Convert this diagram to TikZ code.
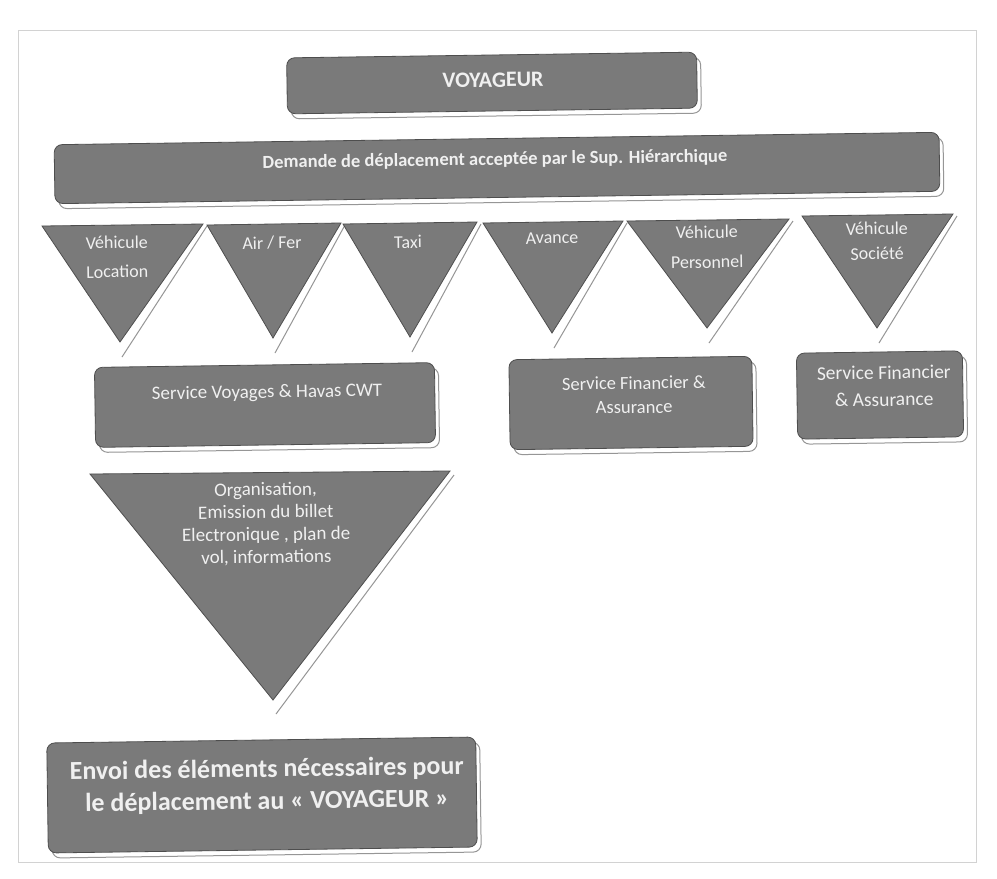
\documentclass[tikz,border=0pt]{standalone}
\usepackage{fontspec}
\setmainfont{Carlito}
\usetikzlibrary{shadows}
\definecolor{boxfill}{RGB}{122,122,122}
\definecolor{boxedge}{RGB}{78,78,78}
\definecolor{txt}{RGB}{240,240,240}
\definecolor{shad}{RGB}{150,150,150}
\begin{document}
\begin{tikzpicture}[x=1pt,y=-1pt,
  box/.style={rounded corners=8pt, fill=boxfill, draw=boxedge, line width=0.8pt, rotate=0.8,
    drop shadow={shadow xshift=4pt, shadow yshift=-5pt, fill=white, draw=shad, opacity=1, line width=1pt}},
  tri/.style={fill=boxfill, draw=boxedge, line width=0.8pt},
  trishad/.style={draw=shad, line width=1pt},
  lbl/.style={text=txt, align=center, inner sep=0pt, rotate=0.8},
  frame/.style={draw=gray!35, line width=0.6pt}]
\useasboundingbox (0,0) rectangle (997,879);
\fill[white] (0,0) rectangle (997,879);
\draw[frame] (18,30) rectangle (976,862);

% top boxes
\node[box, minimum width=410pt, minimum height=56pt] (voy) at (492,83) {};
\node[lbl, font=\fontsize{22}{26}\selectfont\bfseries] (voyt) at (493,80) {VOYAGEUR};
\node[box, minimum width=885pt, minimum height=59pt] (dem) at (497,168) {};
\node[lbl, font=\fontsize{18.5}{22}\selectfont\bfseries] (demt) at (495,160) {Demande de déplacement acceptée par le Sup. Hiérarchique};

% row triangles
\foreach \n/\l/\r/\t/\ax/\ay in {1/42/203/225/120/342, 2/207/341/224/273/338, 3/343/477/223/410/337,
    4/483/623/222/552/333, 5/627/789/220/707/328, 6/802/953/215/877/328}{
  \draw[trishad] (\r+4,\t+1) -- (\ax+2,\ay+15);
  \fill[tri] (\l,\t+1) coordinate (t\n l) -- (\r,\t-1) coordinate (t\n r) -- (\ax,\ay) coordinate (t\n a) -- cycle;
}
\node[lbl, font=\fontsize{18}{29}\selectfont] (l1) at (117,257) {Véhicule\\Location};
\node[lbl, font=\fontsize{18}{29}\selectfont] (l2) at (272,243) {Air / Fer};
\node[lbl, font=\fontsize{18}{29}\selectfont] (l3) at (408,242) {Taxi};
\node[lbl, font=\fontsize{18}{29}\selectfont] (l4) at (552,238) {Avance};
\node[lbl, font=\fontsize{18}{30}\selectfont] (l5) at (707,247) {Véhicule\\Personnel};
\node[lbl, font=\fontsize{18}{25}\selectfont] (l6) at (877,241) {Véhicule\\Société};

% service boxes
\node[box, minimum width=340pt, minimum height=80pt] (svc) at (265,405) {};
\node[lbl, font=\fontsize{19}{22}\selectfont] (svct) at (267,393) {Service Voyages \& Havas CWT};
\node[box, minimum width=243pt, minimum height=90pt] (fin1) at (631,403) {};
\node[lbl, font=\fontsize{18.5}{24}\selectfont] (fin1t) at (634,395) {Service Financier \&\\Assurance};
\node[box, minimum width=166pt, minimum height=86pt] (fin2) at (880,395) {};
\node[lbl, font=\fontsize{19.5}{27}\selectfont] (fin2t) at (884,386) {Service Financier\\\& Assurance};

% big triangle
\draw[trishad] (454,475) -- (276,714);
\fill[tri] (90,474) coordinate (bl) -- (450,471) coordinate (br) -- (273,700) coordinate (ba) -- cycle;
\node[lbl, font=\fontsize{19}{22.5}\selectfont] (orgt) at (266,524) {Organisation,\\Emission du billet\\Electronique , plan de\\vol, informations};

% bottom box
\node[box, minimum width=429pt, minimum height=110pt] (env) at (262,795) {};
\node[lbl, font=\fontsize{26}{32}\selectfont\bfseries] (envt) at (267,786) {Envoi des éléments nécessaires pour\\le déplacement au « VOYAGEUR »};
\end{tikzpicture}
\end{document}
